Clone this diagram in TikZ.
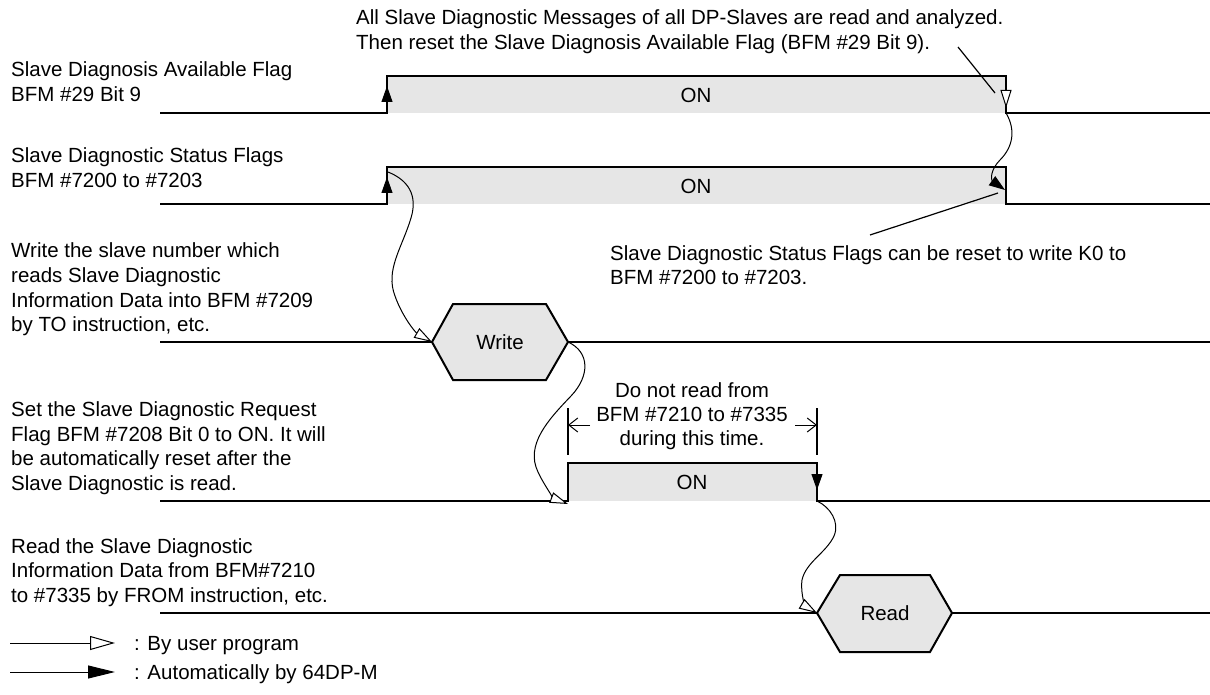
\documentclass[tikz,border=0pt]{standalone}
\usepackage{fontspec}
\setmainfont{Liberation Sans}
\usetikzlibrary{arrows.meta}
\definecolor{ongray}{RGB}{230,230,230}
\tikzset{
  sig/.style={line width=2.5pt, line join=miter, line cap=butt},
  thinline/.style={line width=1pt},
  leader/.style={line width=1.2pt},
  txt/.style={anchor=base west, inner sep=0pt, font=\fontsize{20.5}{24.5}\selectfont},
  ctxt/.style={anchor=base, inner sep=0pt, font=\fontsize{20.5}{24.5}\selectfont},
  midtxt/.style={anchor=center, inner sep=0pt, font=\fontsize{20.5}{24.5}\selectfont},
  autotip/.style={-{Triangle[length=16pt,width=11pt]}},
  usertip/.style={-{Triangle[length=18pt,width=11pt,fill=white]}},
  hexa/.style={fill=ongray, draw=black, line width=2pt, line join=miter}
}
\begin{document}
\begin{tikzpicture}[x=1pt,y=-1pt]
\useasboundingbox (0,0) rectangle (1210,695);

% ---------- coordinates ----------
\coordinate (r1s) at (160,113);
\coordinate (r1up) at (387,113);
\coordinate (r1uptop) at (387,76);
\coordinate (r1dntop) at (1006,76);
\coordinate (r1dn) at (1006,113);
\coordinate (r1e) at (1210,113);

\coordinate (r2s) at (160,204);
\coordinate (r2up) at (387,204);
\coordinate (r2uptop) at (387,167);
\coordinate (r2dntop) at (1006,167);
\coordinate (r2dn) at (1006,204);
\coordinate (r2e) at (1210,204);

\coordinate (r3s) at (160,342);
\coordinate (wl) at (432,342);
\coordinate (wr) at (568,342);
\coordinate (r3e) at (1210,342);

\coordinate (r4s) at (160,501);
\coordinate (r4up) at (568,501);
\coordinate (r4uptop) at (568,463);
\coordinate (r4dntop) at (817,463);
\coordinate (r4dn) at (817,501);
\coordinate (r4e) at (1210,501);

\coordinate (r5s) at (160,613);
\coordinate (rl) at (817,613);
\coordinate (rr) at (952,613);
\coordinate (r5e) at (1210,613);

% ---------- pulses ----------
\fill[ongray] (r1uptop) rectangle (r1dn);
\fill[ongray] (r2uptop) rectangle (r2dn);
\fill[ongray] (r4uptop) rectangle (r4dn);
\draw[sig] (r1s) -- (r1up) -- (r1uptop) -- (r1dntop) -- (r1dn) -- (r1e);
\draw[sig] (r2s) -- (r2up) -- (r2uptop) -- (r2dntop) -- (r2dn) -- (r2e);
\draw[sig] (r4s) -- (r4up) -- (r4uptop) -- (r4dntop) -- (r4dn) -- (r4e);
\node[midtxt] (on1) at (696,95) {ON};
\node[midtxt] (on2) at (696,186) {ON};
\node[midtxt] (on4) at (692,482) {ON};

% ---------- hexagons ----------
\draw[sig] (r3s) -- (wl);
\draw[sig] (wr) -- (r3e);
\draw[hexa] (wl) -- (453,304) -- (546,304) -- (wr) -- (546,380) -- (453,380) -- cycle;
\node[midtxt] (write) at (500,342) {Write};
\draw[sig] (r5s) -- (rl);
\draw[sig] (rr) -- (r5e);
\draw[hexa] (rl) -- (840,575) -- (930,575) -- (rr) -- (930,652) -- (840,652) -- cycle;
\node[midtxt] (read) at (885,613) {Read};

% ---------- edge arrows ----------
\draw[thinline, autotip] (387,110) -- (387,86);
\draw[thinline, autotip] (387,201) -- (387,177);
\draw[thinline, usertip] (1006,80) -- (1006,108);
\draw[thinline, autotip] (817,466) -- (817,490);

% ---------- causal curves ----------
\draw[thinline, autotip] (r1dn) .. controls (1016,130) and (1013,147) .. (1000,160)
   .. controls (990,170) and (991,180) .. (1005,190);
\draw[thinline, usertip] (388,172) .. controls (408,180) and (418,195) .. (411,218)
   .. controls (402,248) and (385,270) .. (395,296)
   .. controls (402,316) and (415,332) .. (wl);
\draw[thinline, usertip] (wr) .. controls (590,352) and (590,376) .. (571,396)
   .. controls (548,420) and (525,445) .. (538,472)
   .. controls (545,487) and (555,499) .. (568,504);
\draw[thinline, usertip] (r4dn) .. controls (830,507) and (840,522) .. (834,536)
   .. controls (826,553) and (806,562) .. (802,580)
   .. controls (800,596) and (807,607) .. (rl);

% ---------- dimension ----------
\coordinate (dl) at (568,425);
\coordinate (dr) at (817,425);
\draw[line width=2pt] (568,408) -- (568,455);
\draw[line width=2pt] (817,408) -- (817,455);
\node[ctxt] (dim1) at (692,397) {Do not read from};
\node[ctxt] (dim2) at (692,421) {BFM \#7210 to \#7335};
\node[ctxt] (dim3) at (692,445) {during this time.};
\draw[thinline, -{Straight Barb[length=9pt,width=14pt]}] (590,425) -- (dl);
\draw[thinline, -{Straight Barb[length=9pt,width=14pt]}] (795,425) -- (dr);

% ---------- leaders and notes ----------
\node[txt] (top1) at (356,25) {All Slave Diagnostic Messages of all DP-Slaves are read and analyzed.};
\node[txt] (top2) at (356,49.5) {Then reset the Slave Diagnosis Available Flag (BFM \#29 Bit 9).};
\coordinate (ld1a) at (958,47);
\coordinate (ld1b) at (995,93);
\draw[leader] (ld1a) -- (ld1b);
\node[txt] (rn1) at (610,260) {Slave Diagnostic Status Flags can be reset to write K0 to};
\node[txt] (rn2) at (610,284.5) {BFM \#7200 to \#7203.};
\coordinate (ld2a) at (870,235);
\coordinate (ld2b) at (998,193);
\draw[leader] (ld2a) -- (ld2b);

% ---------- left labels ----------
\node[txt] (l11) at (11,77) {Slave Diagnosis Available Flag};
\node[txt] (l12) at (11,101.5) {BFM \#29 Bit 9};
\node[txt] (l21) at (11,163) {Slave Diagnostic Status Flags};
\node[txt] (l22) at (11,187.5) {BFM \#7200 to \#7203};
\node[txt] (l31) at (11,258) {Write the slave number which};
\node[txt] (l32) at (11,282.5) {reads Slave Diagnostic};
\node[txt] (l33) at (11,307) {Information Data into BFM \#7209};
\node[txt] (l34) at (11,331.5) {by TO instruction, etc.};
\node[txt] (l41) at (11,416.5) {Set the Slave Diagnostic Request};
\node[txt] (l42) at (11,441) {Flag BFM \#7208 Bit 0 to ON. It will};
\node[txt] (l43) at (11,465.5) {be automatically reset after the};
\node[txt] (l44) at (11,490) {Slave Diagnostic is read.};
\node[txt] (l51) at (11,553) {Read the Slave Diagnostic};
\node[txt] (l52) at (11,577.5) {Information Data from BFM\#7210};
\node[txt] (l53) at (11,602) {to \#7335 by FROM instruction, etc.};

% ---------- legend ----------
\coordinate (lg1a) at (10,643);
\coordinate (lg1b) at (115,643);
\coordinate (lg2a) at (10,672);
\coordinate (lg2b) at (115,672);
\draw[thinline, -{Triangle[length=25pt,width=14pt,fill=white]}] (lg1a) -- (lg1b);
\draw[thinline, -{Triangle[length=27pt,width=13pt]}] (lg2a) -- (lg2b);
\node[txt] (lg1t) at (134,650) {: By user program};
\node[txt] (lg2t) at (134,679) {: Automatically by 64DP-M};
\end{tikzpicture}
\end{document}
